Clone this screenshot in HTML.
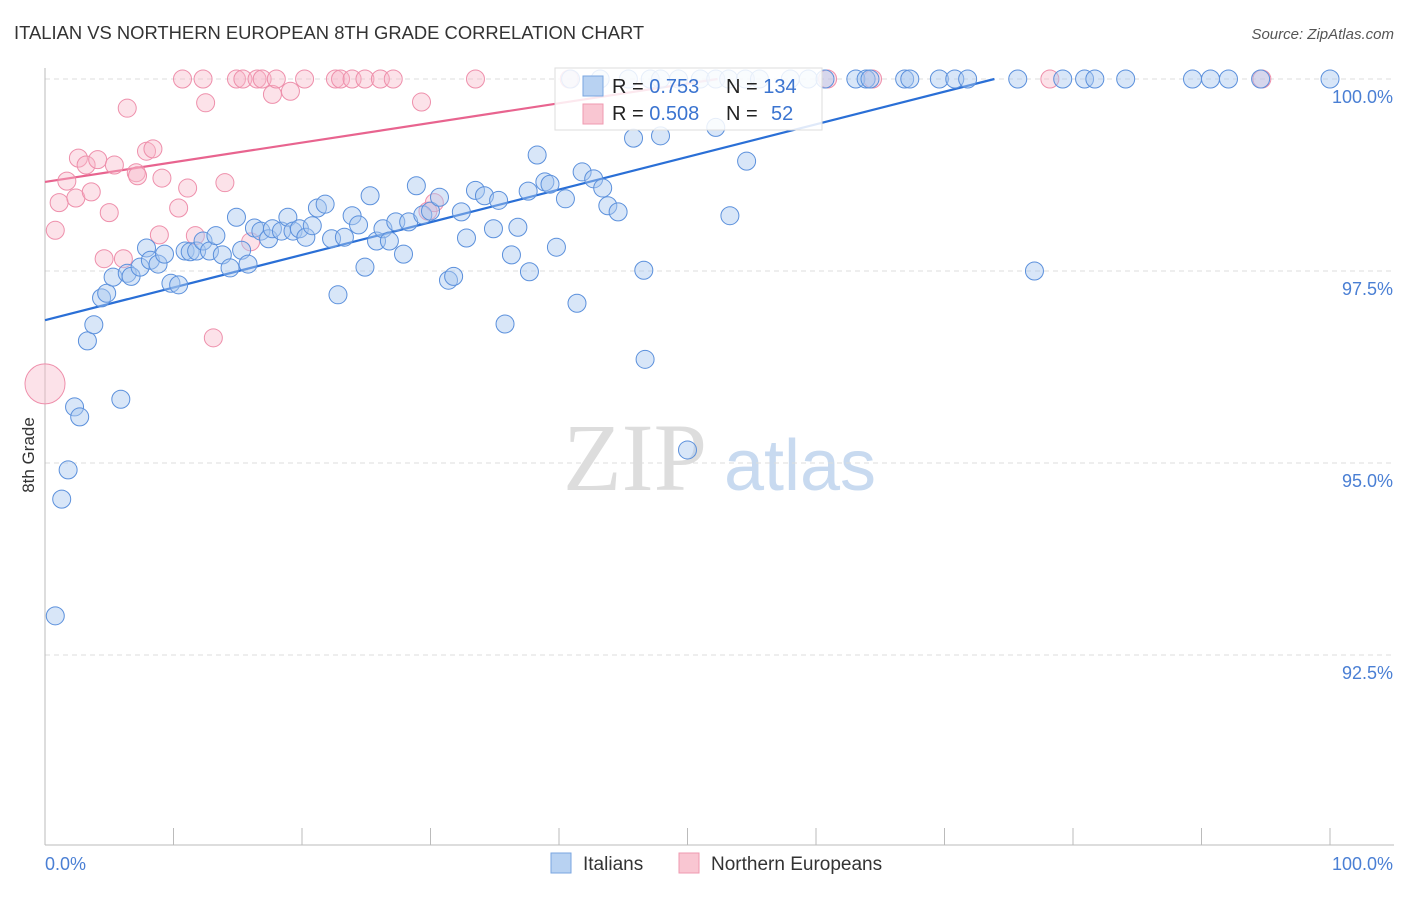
<!DOCTYPE html>
<html><head><meta charset="utf-8"><style>
body{margin:0;background:#fff;font-family:"Liberation Sans",sans-serif}
</style></head><body>
<svg id="chart" width="1406" height="892">
<text x="14" y="39" font-size="18.4" fill="#333">ITALIAN VS NORTHERN EUROPEAN 8TH GRADE CORRELATION CHART</text>
<text x="1394" y="39" font-size="15" fill="#555" font-style="italic" text-anchor="end">Source: ZipAtlas.com</text>
<text x="34" y="455" font-size="17" fill="#333" transform="rotate(-90 34 455)" text-anchor="middle">8th Grade</text>
<g>
<text x="635" y="490" font-family="Liberation Serif,serif" font-size="96" fill="#ddd" text-anchor="middle">ZIP</text>
<text x="800" y="490" font-size="72" fill="#c8daf0" text-anchor="middle">atlas</text>
</g>
<g id="grid"></g><g id="axes"></g><g id="lines"></g><g id="pts"></g>
<g>
<rect x="555" y="68" width="267" height="62" fill="#fff" fill-opacity="0.85" stroke="#ddd"/>
<rect x="583" y="76" width="20" height="20" fill="#b8d2f2" stroke="#7aa6e0"/>
<rect x="583" y="104" width="20" height="20" fill="#f9c6d2" stroke="#ef9ab0"/>
<text x="612" y="93" font-size="20" fill="#222">R = <tspan fill="#3b74d0">0.753</tspan><tspan x="726">N = </tspan><tspan fill="#3b74d0">134</tspan></text>
<text x="612" y="120" font-size="20" fill="#222">R = <tspan fill="#3b74d0">0.508</tspan><tspan x="726">N = </tspan><tspan x="771" fill="#3b74d0">52</tspan></text>
</g>
<g>
<rect x="551" y="853" width="20" height="20" fill="#b8d2f2" stroke="#7aa6e0"/>
<text x="583" y="870" font-size="19" fill="#333">Italians</text>
<rect x="679" y="853" width="20" height="20" fill="#f9c6d2" stroke="#ef9ab0"/>
<text x="711" y="870" font-size="19" fill="#333">Northern Europeans</text>
</g>
</svg>
<script>
const yTicks=[100,97.5,95,92.5];
const yTickLabels=["100.0%","97.5%","95.0%","92.5%"];
const xTicks=[0,10,20,30,40,50,60,70,80,90,100];
const blueX=[0.8,1.3,1.8,2.3,2.7,3.3,3.8,4.4,4.8,5.3,5.9,6.4,6.7,7.4,7.9,8.2,8.8,9.3,9.8,10.4,10.9,11.3,11.8,12.3,12.8,13.3,13.8,14.4,14.9,15.3,15.8,16.3,16.8,17.4,17.7,18.4,18.9,19.3,19.8,20.3,20.8,21.2,21.8,22.3,22.8,23.3,23.9,24.4,24.9,25.3,25.8,26.3,26.8,27.3,27.9,28.3,28.9,29.4,30.0,30.7,31.4,31.8,32.4,32.8,33.5,34.2,34.9,35.3,35.8,36.3,36.8,37.6,37.7,38.3,38.9,39.3,39.8,40.5,41.4,41.8,42.7,43.4,43.8,44.6,45.8,46.6,46.7,47.9,50.0,52.2,53.3,54.6,77.0,
40.9,43.2,45.4,47.1,47.9,49.3,51.0,52.2,53.2,54.5,55.6,58.0,59.4,60.7,63.1,63.9,64.2,66.9,67.3,69.6,70.8,71.8,75.7,79.2,80.9,81.7,84.1,89.3,90.7,92.1,94.6,100];
const blueY=[93.01,94.53,94.91,95.73,95.60,96.59,96.80,97.15,97.21,97.42,95.83,97.47,97.43,97.55,97.80,97.64,97.59,97.72,97.34,97.32,97.76,97.75,97.76,97.89,97.76,97.96,97.71,97.54,98.20,97.77,97.59,98.06,98.02,97.92,98.05,98.02,98.20,98.02,98.05,97.94,98.09,98.32,98.37,97.92,97.19,97.94,98.22,98.10,97.55,98.48,97.89,98.05,97.89,98.14,97.72,98.14,98.61,98.23,98.28,98.46,97.38,97.43,98.27,97.93,98.55,98.48,98.05,98.42,96.81,97.71,98.07,98.54,97.49,99.01,98.66,98.63,97.81,98.44,97.08,98.79,98.70,98.58,98.35,98.27,99.23,97.51,96.35,99.26,95.17,99.37,98.22,98.93,97.50,
100,100,100,100,100,100,100,100,100,100,100,100,100,100,100,100,100,100,100,100,100,100,100,100,100,100,100,100,100,100,100,100];
const pinkX=[0,0.8,1.1,1.7,2.4,2.6,3.2,3.6,4.1,4.6,5.0,5.4,6.1,6.4,7.1,7.2,7.9,8.4,8.9,9.1,10.4,11.1,11.7,12.5,13.1,14.0,16.0,17.7,19.1,29.3,29.8,30.3,
10.7,12.3,14.9,15.4,16.5,16.9,18.0,20.2,22.6,23.0,23.9,24.9,26.1,27.1,33.5,40.8,60.9,64.4,78.2,94.7];
const pinkY=[96.03,98.03,98.39,98.67,98.45,98.97,98.88,98.53,98.95,97.66,98.26,98.88,97.66,99.62,98.78,98.74,99.06,99.09,97.97,98.71,98.32,98.58,97.96,99.69,96.63,98.65,97.88,99.80,99.84,99.70,98.28,98.39,
100,100,100,100,100,100,100,100,100,100,100,100,100,100,100,100,100,100,100,100];
const pinkSize=[20];
const trendIntercepts=[96.86,98.66];
const trendSlopes=[0.0425,0.0256];

const NS="http://www.w3.org/2000/svg";
const X0=45,X1=1330,Y100=79,PXPER=76.8;
const sx=v=>X0+(X1-X0)*v/100;
const sy=v=>Y100+(100-v)*PXPER;
function mk(tag,attrs,parent){const e=document.createElementNS(NS,tag);for(const k in attrs)e.setAttribute(k,attrs[k]);parent.appendChild(e);return e;}
const grid=document.getElementById('grid'),axes=document.getElementById('axes'),lines=document.getElementById('lines'),pts=document.getElementById('pts');
yTicks.forEach((t,i)=>{
 const l=mk('line',{x1:X0,x2:1394,y1:sy(t),y2:sy(t),stroke:'#ddd','stroke-dasharray':'5,4'},grid);
 
 
 const tx=mk('text',{x:1393,y:sy(t)+24,'font-size':18,fill:'#4a7fd4','text-anchor':'end'},axes);
 tx.textContent=yTickLabels[i];
 
 
});
const ya=mk('line',{x1:X0,x2:X0,y1:68,y2:845,stroke:'#bbb'},axes);


const xa=mk('line',{x1:X0,x2:1394,y1:845,y2:845,stroke:'#bbb'},axes);


xTicks.forEach(t=>{
 const l=mk('line',{x1:sx(t),x2:sx(t),y1:828,y2:845,stroke:'#bbb'},axes);
 
 
});
[[0,'0.0%','start',45],[100,'100.0%','end',1393]].forEach(d=>{
 const tx=mk('text',{x:d[3],y:870,'font-size':18,fill:'#4a7fd4','text-anchor':d[2]},axes);
 tx.textContent=d[1];
 
 
});
function trend(i,color,name){
 const xEnd=Math.min(100,(100-trendIntercepts[i])/trendSlopes[i]);
 const l=mk('line',{x1:sx(0),y1:sy(trendIntercepts[i]),x2:sx(xEnd),y2:sy(trendIntercepts[i]+trendSlopes[i]*xEnd),stroke:color,'stroke-width':2.2},lines);
 
 
}
trend(1,'#e8648f','northern-europeans-trend-line');
trend(0,'#2a6fd6','italians-trend-line');
pinkX.forEach((x,i)=>{
 const c=mk('circle',{cx:sx(x),cy:sy(pinkY[i]),r:i===0?pinkSize[0]:9,fill:'#f7b6c8','fill-opacity':0.4,stroke:'#ee8fab','stroke-width':1},pts);
 
 
});
blueX.forEach((x,i)=>{
 const c=mk('circle',{cx:sx(x),cy:sy(blueY[i]),r:9,fill:'#a9c8ef','fill-opacity':0.45,stroke:'#5b90dc','stroke-width':1},pts);
 
 
});
</script>
</body></html>
